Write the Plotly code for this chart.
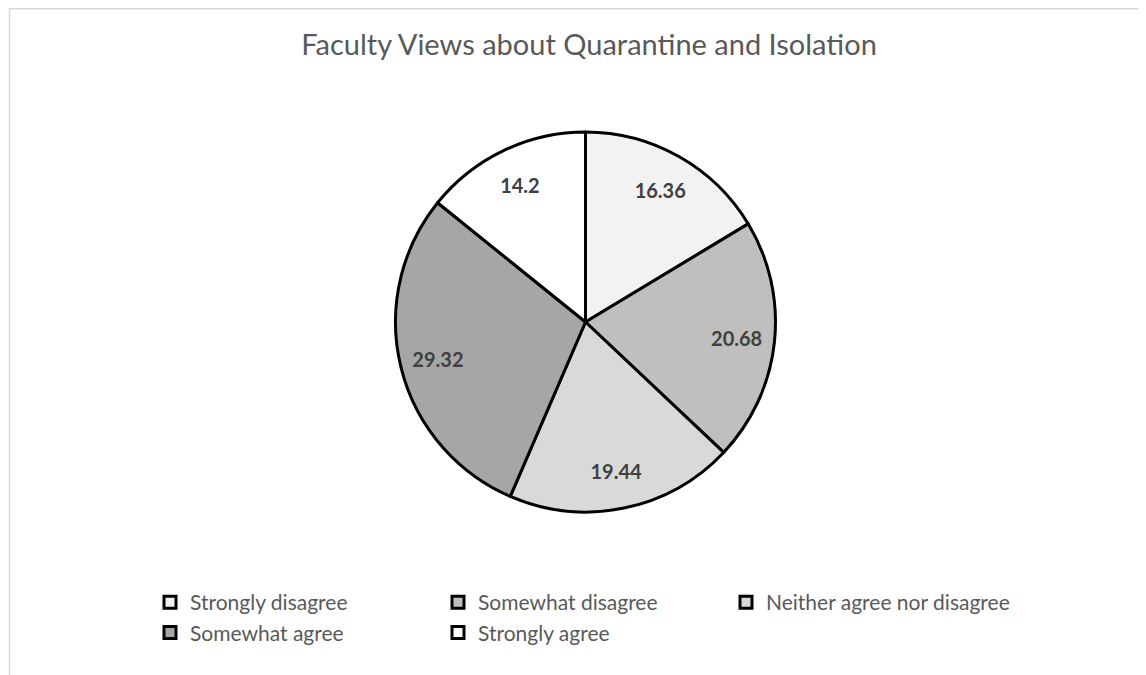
import plotly.graph_objects as go

categories = ["Strongly disagree", "Somewhat disagree", "Neither agree nor disagree",
              "Somewhat agree", "Strongly agree"]
values = [16.36, 20.68, 19.44, 29.32, 14.2]
colors = ["#f2f2f2", "#bfbfbf", "#d9d9d9", "#a6a6a6", "#ffffff"]

OFF = 8  # page body margin
W, H = 1146 - OFF, 675 - OFF
FONT = "Lato"


def px(x):
    return (x - OFF) / W


def py(y):
    return 1 - (y - OFF) / H


dom = dict(x=[px(393), px(778)], y=[py(512), py(132)])

fig = go.Figure()
fig.add_trace(go.Pie(
    labels=categories,
    values=values,
    sort=False,
    direction="clockwise",
    rotation=0,
    marker=dict(colors=colors, line=dict(color="#000000", width=3)),
    textinfo="none",
    domain=dom,
    hoverinfo="label+value",
))
# label ring (places value labels at ~0.8 of the radius)
fig.add_trace(go.Pie(
    labels=categories,
    values=values,
    sort=False,
    direction="clockwise",
    rotation=0,
    hole=0.6,
    marker=dict(colors=["rgba(0,0,0,0)"] * len(values), line=dict(width=0)),
    texttemplate="%{value}",
    textposition="inside",
    insidetextorientation="horizontal",
    textfont=dict(family=FONT, size=20, color="#404040", weight="bold"),
    domain=dom,
    showlegend=False,
    hoverinfo="skip",
))

fig.update_layout(
    width=W, height=H,
    margin=dict(l=0, r=0, t=0, b=0),
    paper_bgcolor="#ffffff",
    plot_bgcolor="#ffffff",
    title=dict(text="Faculty Views about Quarantine and Isolation",
               x=px(589), xanchor="center", y=py(45), yanchor="middle",
               font=dict(family=FONT, size=29, color="#595959")),
    showlegend=True,
    legend=dict(orientation="h", x=px(150), xanchor="left", y=py(582), yanchor="top",
                entrywidth=243, entrywidthmode="pixels",
                font=dict(family=FONT, size=21, color="#595959"),
                bgcolor="rgba(0,0,0,0)"),
    shapes=[
        dict(type="line", xref="paper", yref="paper", x0=px(9.5), x1=1.0, y0=1 - 0.75 / H, y1=1 - 0.75 / H,
             line=dict(color="#d9d9d9", width=1.5)),
        dict(type="line", xref="paper", yref="paper", x0=px(9.5), x1=px(9.5), y0=0, y1=1,
             line=dict(color="#d9d9d9", width=1.5)),
    ],
)

fig.write_html("out.html")
